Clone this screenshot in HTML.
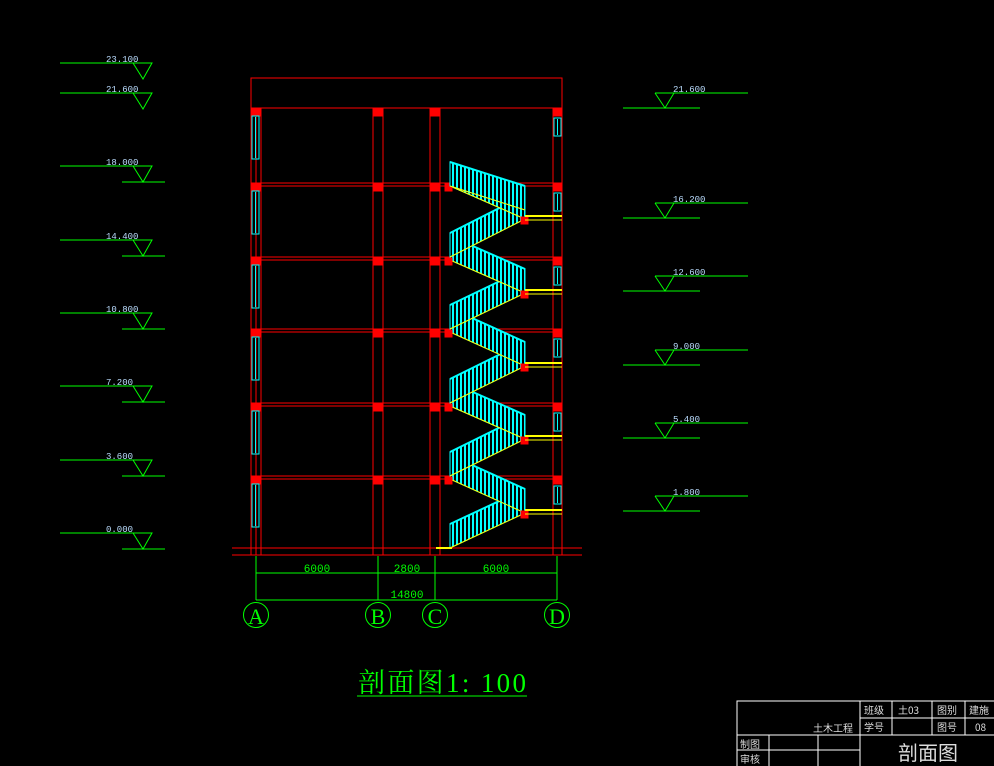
<!DOCTYPE html>
<html><head><meta charset="utf-8"><style>
html,body{margin:0;padding:0;background:#000;}
svg{display:block;}
</style></head><body>
<svg id="s" width="994" height="766" viewBox="0 0 994 766" xmlns="http://www.w3.org/2000/svg" shape-rendering="crispEdges" font-family="Liberation Mono, Noto Sans CJK SC, monospace">
<defs>
<pattern id="bal" width="4" height="4" patternUnits="userSpaceOnUse"><rect width="4" height="4" fill="#000"/><rect x="0" width="2" height="4" fill="#0ff"/></pattern>
</defs>
<g id="g"></g>
</svg>
<script>
var g=document.getElementById('g'),h='';
function L(x1,y1,x2,y2,c,w){h+='<line x1="'+x1+'" y1="'+y1+'" x2="'+x2+'" y2="'+y2+'" stroke="'+c+'" stroke-width="'+(w||1)+'"/>';}
function R(x,y,w,hh,c,f){h+='<rect x="'+x+'" y="'+y+'" width="'+w+'" height="'+hh+'" stroke="'+c+'" fill="'+(f||'none')+'"/>';}
function T(x,y,s,c,sz,a){h+='<text x="'+x+'" y="'+y+'" fill="'+c+'" font-size="'+sz+'"'+(a?' text-anchor="'+a+'"':'')+'>'+s+'</text>';}
var RED='#f00',GR='#0f0',CY='#0ff',YE='#ff0';
var lv=[["23.100",63,0],["21.600",93,0],["18.000",166,1],["14.400",240,1],["10.800",313,1],["7.200",386,1],["3.600",460,1],["0.000",533,1]];
lv.forEach(function(a){var y=a[1];L(60,y,152,y,GR);h+='<polyline shape-rendering="auto" points="133,'+y+' 152,'+y+' 143,'+(y+16)+' 133,'+y+'" fill="none" stroke="'+GR+'"/>';if(a[2])L(122,y+16,165,y+16,GR);T(106,y-1,a[0],'#bdf',9);});
var rv=[["21.600",93],["16.200",203],["12.600",276],["9.000",350],["5.400",423],["1.800",496]];
rv.forEach(function(a){var y=a[1];L(655,y,748,y,GR);h+='<polyline shape-rendering="auto" points="655,'+y+' 674,'+y+' 665,'+(y+15)+' 655,'+y+'" fill="none" stroke="'+GR+'"/>';L(623,y+15,700,y+15,GR);T(673,y-1,a[0],'#bdf',9);});
R(251,78,311,30,RED);
var F=[548,476,403,329,257,183,108];
[256,261,373,383,430,440,553,562,251].forEach(function(x){L(x,108,x,555,RED);});
L(232,548,582,548,RED);L(232,555,582,555,RED);
for(var i=1;i<7;i++){var y=F[i];L(251,y,562,y,RED);if(i<6)L(251,y+3,562,y+3,RED);
 [[251,10],[373,10],[430,10],[553,9]].forEach(function(c){R(c[0],y,c[1],8,RED,RED);});}
for(var i=0;i<6;i++){var y=F[i+1]+8;R(252,y,7,43,CY);L(255.5,y+1,255.5,y+42,CY);R(554,y+2,7,18,CY);L(557.5,y+3,557.5,y+19,CY);}
var M=[513,439,366,293,219];
function flight(xl,yl,xr,yr){
 h+='<polygon shape-rendering="auto" points="'+xl+','+(yl-24)+' '+xr+','+(yr-24)+' '+xr+','+yr+' '+xl+','+yl+'" fill="url(#bal)" stroke="'+CY+'"/>';
 h+='<g shape-rendering="auto">';L(xl,yl,xr,yr,YE);L(xl,yl-24,xr,yr-24,CY,2);h+='</g>';}
for(var i=0;i<5;i++){var fl=F[i],fu=F[i+1],m=M[i];
 flight(450,fl,525,m);
 flight(450,fu+3,525,m);
 R(521,m-2,7,7,RED,RED);L(525,m-3,562,m-3,YE,2);L(525,m+1,562,m+1,YE);
 if(i>0){R(445,fl+1,7,7,RED,RED);}
}
R(445,F[5]+1,7,7,RED,RED);
flight(450,186,525,210);
L(436,548,452,548,YE,2);
[256,378,435,557].forEach(function(x){L(x,556,x,600,GR);});
L(256,573,557,573,GR);L(256,600,557,600,GR);
T(317,572,"6000",GR,11,"middle");T(407,572,"2800",GR,11,"middle");T(496,572,"6000",GR,11,"middle");T(407,598,"14800",GR,11,"middle");
[["A",256],["B",378],["C",435],["D",557]].forEach(function(a){h+='<circle shape-rendering="auto" cx="'+a[1]+'" cy="615" r="12.5" fill="none" stroke="'+GR+'"/>';h+='<text x="'+a[1]+'" y="624" fill="'+GR+'" font-size="22" text-anchor="middle" font-family="Liberation Serif, serif">'+a[0]+'</text>';});
h+='<text x="358" y="692" fill="'+GR+'" font-size="27" textLength="168" lengthAdjust="spacing" font-family="Liberation Serif, Noto Serif CJK SC, serif">剖面图1: 100</text>';
L(357,696,527,696,GR);
var W='#fff';
R(737,701,260,70,W);
[860,892,932,965].forEach(function(x){L(x,701,x,735,W);});
L(860,735,860,766,W);
L(860,718,994,718,W);L(737,735,994,735,W);
L(769,735,769,766,W);L(818,735,818,766,W);L(737,750,860,750,W);
var F2='font-family="Noto Sans CJK SC, sans-serif"';
function C(x,y,s,sz){h+='<text x="'+x+'" y="'+y+'" fill="#ddd" font-size="'+sz+'" '+F2+'>'+s+'</text>';}
C(813,732,"土木工程",10);C(864,714,"班级",10);C(898,714,"土03",10);C(937,714,"图别",10);C(969,714,"建施",10);
C(864,731,"学号",10);C(937,731,"图号",10);C(975,731,"08",10);
C(740,748,"制图",10);C(740,763,"审核",10);C(898,760,"剖面图",20);
g.innerHTML=h;
</script>
</body></html>
